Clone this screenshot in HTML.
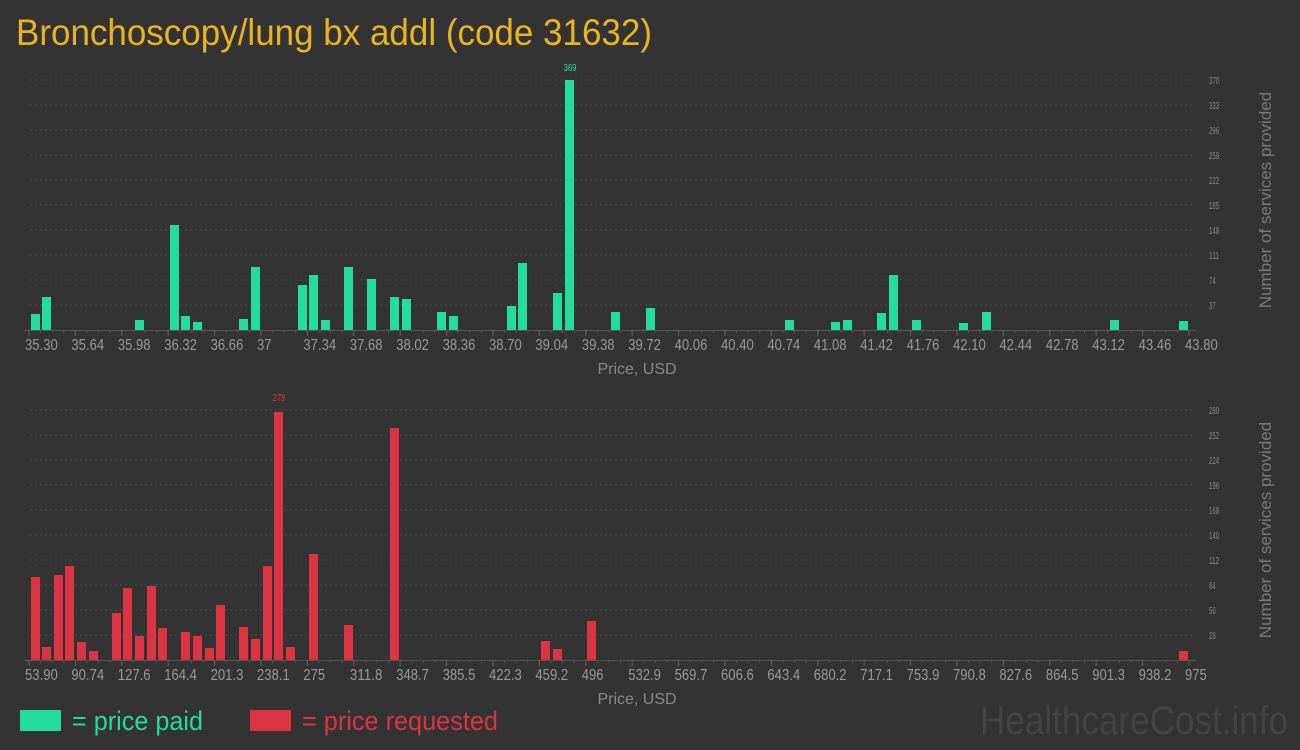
<!DOCTYPE html>
<html><head><meta charset="utf-8"><style>
html,body{margin:0;padding:0;background:#333333;}
svg{display:block;font-family:"Liberation Sans",sans-serif;}
</style></head><body>
<svg id="s" width="1300" height="750" xmlns="http://www.w3.org/2000/svg">
<rect width="1300" height="750" fill="#333333"/>
<text x="16" y="45" font-size="37" fill="#e9b321" textLength="636" lengthAdjust="spacingAndGlyphs">Bronchoscopy/lung bx addl (code 31632)</text>
<g id="g"></g>
<rect x="20" y="710" width="41" height="21" fill="#22dd9b"/>
<text x="72" y="730" font-size="27" fill="#22dd9b" textLength="131" lengthAdjust="spacingAndGlyphs">= price paid</text>
<rect x="250" y="710" width="41" height="21" fill="#dc3443"/>
<text x="302" y="730" font-size="27" fill="#dc3443" textLength="196" lengthAdjust="spacingAndGlyphs">= price requested</text>
<text x="980" y="734" font-size="40" fill="#444444" textLength="308" lengthAdjust="spacingAndGlyphs">HealthcareCost.info</text>
</svg>
<script>
var g=document.getElementById('g');var h='';
function tl(s,sz){var w=0;for(var c of s){w+= (c=='.')?sz*0.22:sz*0.42;}return w;}
function chart(base,vals,col,ticks,bars,peak,peakX){
 for(var i=1;i<=10;i++){var y=base-25*i;
  h+='<line x1="30" x2="1195" y1="'+y+'" y2="'+y+'" stroke="#4c4c4c" stroke-dasharray="2,3"/>';
  h+='<text x="1209" y="'+(y+4)+'" font-size="10" fill="#8a8a8a" textLength="'+tl(String(vals[i-1]),10)*0.8+'" lengthAdjust="spacingAndGlyphs">'+vals[i-1]+'</text>';}
 h+='<line x1="24" x2="1196" y1="'+(base+0.5)+'" y2="'+(base+0.5)+'" stroke="#555"/>';
 for(var k=0;k<26;k++){var x=29+46.4*k;
  h+='<line x1="'+x+'" x2="'+x+'" y1="'+base+'" y2="'+(base+6)+'" stroke="#666"/>';
  if(k<25){for(var m=1;m<4;m++){var xm=x+11.6*m;h+='<line x1="'+xm+'" x2="'+xm+'" y1="'+base+'" y2="'+(base+3)+'" stroke="#555"/>';}}
  h+='<text x="'+(x-4)+'" y="'+(base+20)+'" font-size="16" fill="#999" textLength="'+tl(ticks[k],15)*1.15+'" lengthAdjust="spacingAndGlyphs">'+ticks[k]+'</text>';}
 h+='<text x="637" y="'+(base+44)+'" font-size="16" fill="#8a8a8a" text-anchor="middle">Price, USD</text>';
 var cy=base-130;
 h+='<text transform="translate(1271,'+cy+') rotate(-90)" font-size="17" fill="#7a7a7a" text-anchor="middle">Number of services provided</text>';
 bars.forEach(function(b){h+='<rect x="'+b[0]+'" y="'+(base-b[1])+'" width="9" height="'+b[1]+'" fill="'+col+'"/>';});
 h+='<text x="'+peakX+'" y="'+(base-259)+'" font-size="10" fill="'+col+'" text-anchor="middle" textLength="13" lengthAdjust="spacingAndGlyphs">'+peak+'</text>';
}
var t1=[];for(var k=0;k<26;k++){var v=(35.30+0.34*k);t1.push(k==5?'37':v.toFixed(2));}
var t2=['53.90','90.74','127.6','164.4','201.3','238.1','275','311.8','348.7','385.5','422.3','459.2','496','532.9','569.7','606.6','643.4','680.2','717.1','753.9','790.8','827.6','864.5','901.3','938.2','975'];
var b1=[[31,16],[42,33],[135,10],[170,105],[181,14],[193,8],[239,11],[251,63],[298,45],[309,55],[321,10],[344,63],[367,51],[390,33],[402,31],[437,18],[449,14],[507,24],[518,67],[553,37],[565,250],[611,18],[646,22],[785,10],[831,8],[843,10],[877,17],[889,55],[912,10],[959,7],[982,18],[1110,10],[1179,9]];
var b2=[[31,83],[42,13],[54,85],[65,94],[77,18],[89,9],[112,47],[123,72],[135,24],[147,74],[158,32],[181,28],[193,24],[205,12],[216,55],[239,33],[251,21],[263,94],[274,248],[286,13],[309,106],[344,35],[390,232],[541,19],[553,11],[587,39],[1179,9]];
chart(330,[37,74,111,148,185,222,259,296,333,370],'#22dd9b',t1,b1,369,570);
chart(660,[28,56,84,112,140,168,196,224,252,280],'#dc3443',t2,b2,278,279);
g.innerHTML=h;
</script>
</body></html>
